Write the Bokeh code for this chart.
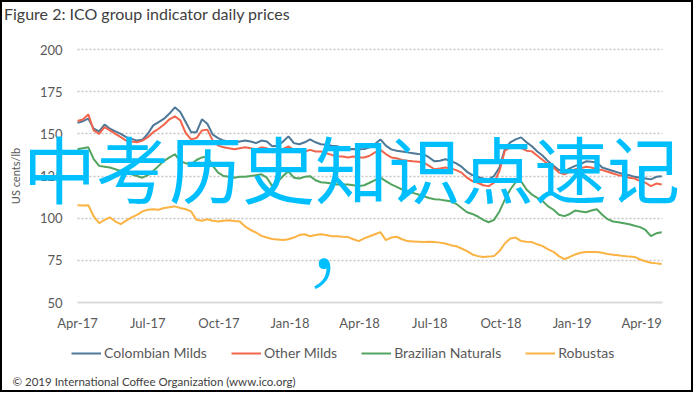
import pandas as pd
from bokeh.plotting import figure
from bokeh.models import (Label, Legend, LegendItem, FixedTicker,
                          DatetimeTickFormatter, Range1d)
from bokeh.embed import file_html
from bokeh.resources import INLINE

# ---------------- data ----------------
DATES = pd.date_range("2017-04-01", periods=109, freq="7D")

COLOMBIAN = [156.5, 157.5, 159, 153, 151.5, 155.5, 153, 151.5, 150, 148,
             147, 146, 146.5, 150, 155, 157, 159, 162, 165.7, 163,
             157, 151, 151, 158.6, 156, 149.5, 147.5, 146, 145.5, 145,
             145.5, 146, 145.5, 144.5, 146, 145.5, 142.6, 143, 145.5, 148.5,
             144.5, 143.8, 145, 146.7, 145, 143.8, 143.5, 143, 142.6, 141.5,
             140.8, 141, 140.8, 141, 142, 144, 146.7, 143, 140.8, 140,
             139.5, 139, 138.5, 138, 137.9, 136, 133.7, 134, 134.9, 134,
             132.5, 130.5, 127.5, 125.5, 124.5, 123.5, 123, 125, 130, 141,
             145, 146.7, 147.9, 145, 142.6, 139.5, 137, 133.7, 131, 128.5,
             127.8, 129.5, 131, 132, 133.7, 133.5, 133, 130, 129, 128,
             127, 126, 125.5, 124.5, 124, 123.5, 123, 124.5, 124.9]

OTHER = [157.6, 158.5, 161.5, 152, 150, 154, 152, 150, 148, 146,
         145.5, 145, 146, 148, 151, 153, 155.5, 158.6, 160.4, 158,
         150.5, 146.7, 147.5, 152, 152.5, 146, 143, 142, 141.5, 140.8,
         141.5, 142, 141.5, 140.8, 142, 141.5, 139, 140, 141, 142.6,
         140.5, 139, 139.5, 140.5, 139.5, 139.6, 138.5, 137.5, 136.7, 136.5,
         136, 136.5, 136, 136, 137, 139, 140.5, 138, 136, 135.5,
         134.5, 134, 133.7, 133.5, 133, 131, 129, 129.5, 130, 129.5,
         128.5, 127, 124, 122, 121, 119.5, 119, 121, 128, 140,
         142, 142.6, 141.5, 140, 139.6, 137, 134.5, 132, 130, 127,
         126, 127.5, 129, 129.5, 130.5, 130, 129, 128.5, 127.5, 126.5,
         125.5, 125, 124, 123.5, 122, 121, 119, 120.5, 120]

BRAZILIAN = [140.8, 141.5, 142, 135, 131, 130.5, 130, 129, 128, 127,
             126, 125, 124, 125.5, 128, 131, 134, 136, 137.9, 134,
             132.5, 132, 134.5, 136, 136.5, 131, 127, 125, 124.5, 124,
             124.5, 124.5, 125, 125.5, 126, 124, 119, 121.5, 125, 127.8,
             124, 123.5, 124.5, 124.9, 122.5, 121.3, 121, 120.5, 120, 120,
             120, 119.5, 119, 119.5, 121, 122.5, 124, 122, 120, 118.5,
             117, 116, 115, 114, 113, 112, 111.2, 111, 110.5, 110,
             108.5, 106, 103.5, 102.5, 101, 99, 97.6, 99, 104, 111,
             117, 121.3, 121.9, 117, 114, 112, 110, 107, 105, 102,
             101.2, 102.5, 104.5, 104, 103.5, 104.5, 105.3, 102, 99.4, 98,
             97.6, 97, 96.4, 95.5, 94.7, 93, 89.3, 91, 91.7]

ROBUSTAS = [107.7, 107.5, 107.7, 101, 97, 99, 100.5, 98, 96.5, 98.5,
            100.5, 102, 104, 105, 105.3, 105, 106, 106.5, 107, 106,
            105.3, 104, 99, 98.5, 99.4, 98.5, 98, 98.5, 98.8, 98.3,
            98, 95, 93, 91.5, 89.5, 88.5, 87.6, 87.3, 87, 87.5,
            88.5, 90, 90.5, 89.3, 90, 90.5, 90, 89.3, 89.3, 89,
            88.8, 87.5, 86.4, 88, 89.3, 90.5, 91.7, 87, 88.5, 89,
            87.5, 86.4, 86.2, 86, 85.8, 86, 85.8, 85.5, 85, 84,
            83.4, 82, 80.5, 78.5, 77.5, 77, 77.2, 77.5, 80.5, 85,
            88, 88.5, 86.4, 86, 85.8, 84.5, 83.4, 81.5, 80, 77.5,
            75.7, 77, 78.5, 79.5, 79.9, 80, 79.9, 79.5, 78.7, 78.3,
            78, 77.5, 77.2, 77, 75.5, 74.5, 73.6, 73.2, 72.8]

SERIES_NAMES = ["Colombian Milds", "Other Milds", "Brazilian Naturals", "Robustas"]
SERIES_COLORS = ["#4d7898", "#f2654c", "#52a460", "#fbb343"]

TICK_DATES = ["2017-04-01", "2017-07-01", "2017-10-01", "2018-01-01", "2018-04-01",
              "2018-07-01", "2018-10-01", "2019-01-01", "2019-04-01"]
Y_TICKS = [50, 75, 100, 125, 150, 175, 200]

TITLE = "Figure 2: ICO group indicator daily prices"
Y_LABEL = "US cents/lb"
FOOTER = "\u00a9 2019 International Coffee Organization (www.ico.org)"
OVERLAY = "中考历史知识点速记"
OVERLAY_COMMA = "，"

# ---------------- layout ----------------
# The frame fills the whole figure; the data area sits at FL..FR / FT..FB.
W, H = 693, 392
FL, FR, FT, FB = 75, 660, 47, 300
X0 = pd.Timestamp("2017-04-01")
X1 = pd.Timestamp("2019-04-28")
X0_MS = X0.value / 1e6
X1_MS = X1.value / 1e6
Y0, Y1 = 50, 200


def px_to_x(px):
    return X0_MS + (px - FL) / (FR - FL) * (X1_MS - X0_MS)


def py_to_y(py):
    return Y1 - (py - FT) / (FB - FT) * (Y1 - Y0)


p = figure(width=W, height=H, x_axis_type="datetime",
           x_range=Range1d(px_to_x(0), px_to_x(W)),
           y_range=Range1d(py_to_y(H), py_to_y(0)),
           output_backend="svg", toolbar_location=None,
           min_border_left=0, min_border_right=0,
           min_border_top=0, min_border_bottom=0)
p.title.visible = False
p.styles = {"border": "2px solid #000000"}
p.outline_line_color = None
p.background_fill_color = "white"
p.border_fill_color = "white"

FONT = "Lato"

# axes (fixed inside the frame, so they take no border space)
p.xaxis.ticker = FixedTicker(ticks=[pd.Timestamp(d).value / 1e6 for d in TICK_DATES])
fmt = "%b-%y"
p.xaxis.formatter = DatetimeTickFormatter(days=fmt, months=fmt, years=fmt, hours=fmt,
                                          minutes=fmt, seconds=fmt, milliseconds=fmt,
                                          microseconds=fmt, minsec=fmt, hourmin=fmt)
p.yaxis.ticker = FixedTicker(ticks=Y_TICKS)
for ax in (p.xaxis, p.yaxis):
    ax.major_tick_line_color = None
    ax.minor_tick_line_color = None
    ax.major_tick_out = 0
    ax.major_tick_in = 0
    ax.minor_tick_out = 0
    ax.minor_tick_in = 0
    ax.major_label_text_font = FONT
    ax.major_label_text_font_size = "13px"
    ax.major_label_text_color = "#595959"
p.xaxis.fixed_location = Y0
p.xaxis.bounds = (X0_MS, X1_MS)
p.xaxis.axis_line_color = "#d9d9d9"
p.xaxis.axis_line_width = 2
p.xaxis.major_label_standoff = 12
p.yaxis.fixed_location = X0_MS
p.yaxis.bounds = (Y0, Y1)
p.yaxis.axis_line_color = None
p.yaxis.major_label_standoff = 15
p.yaxis.axis_label = Y_LABEL
p.yaxis.axis_label_text_font = FONT
p.yaxis.axis_label_text_font_size = "11px"
p.yaxis.axis_label_text_font_style = "normal"
p.yaxis.axis_label_text_color = "#595959"
p.yaxis.axis_label_standoff = 15

p.xgrid.grid_line_color = None
p.ygrid.ticker = FixedTicker(ticks=Y_TICKS[1:])
p.ygrid.cross_bounds = (X0_MS, X1_MS)
p.ygrid.grid_line_color = "#c4c4c4"
p.ygrid.grid_line_dash = "2 2"
p.ygrid.grid_line_width = 1.3

# lines
items = []
for name, vals, col in zip(SERIES_NAMES, [COLOMBIAN, OTHER, BRAZILIAN, ROBUSTAS], SERIES_COLORS):
    r = p.line(DATES, vals, line_color=col, line_width=2)
    items.append(LegendItem(label=name, renderers=[r]))

legend = Legend(items=items, orientation="horizontal", location=(69, 33),
                label_text_font=FONT, label_text_font_size="14px",
                label_text_color="#595959", glyph_width=30, glyph_height=16,
                label_height=16, label_standoff=3, spacing=24, padding=0, margin=0,
                background_fill_alpha=0, border_line_color=None)
p.add_layout(legend)

# texts
p.add_layout(Label(x=px_to_x(1.5), y=py_to_y(10.5), text=TITLE, text_font=FONT,
                   text_font_size="16px", text_color="#404040",
                   text_baseline="middle", text_align="left"))
p.add_layout(Label(x=px_to_x(10), y=py_to_y(379), text=FOOTER, text_font=FONT,
                   text_font_size="11.5px", text_color="#404040",
                   text_baseline="middle", text_align="left"))
p.add_layout(Label(x=px_to_x(349), y=py_to_y(163.5), text=OVERLAY,
                   text_font="Noto Sans CJK SC", text_font_size="73px",
                   text_color="#00bfff",
                   text_baseline="middle", text_align="center"))
p.add_layout(Label(x=px_to_x(351), y=py_to_y(234.5), text=OVERLAY_COMMA,
                   text_font="Noto Sans CJK SC", text_font_size="100px",
                   text_color="#00bfff",
                   text_baseline="alphabetic", text_align="center"))

open("out.html", "w").write(file_html(p, INLINE))
